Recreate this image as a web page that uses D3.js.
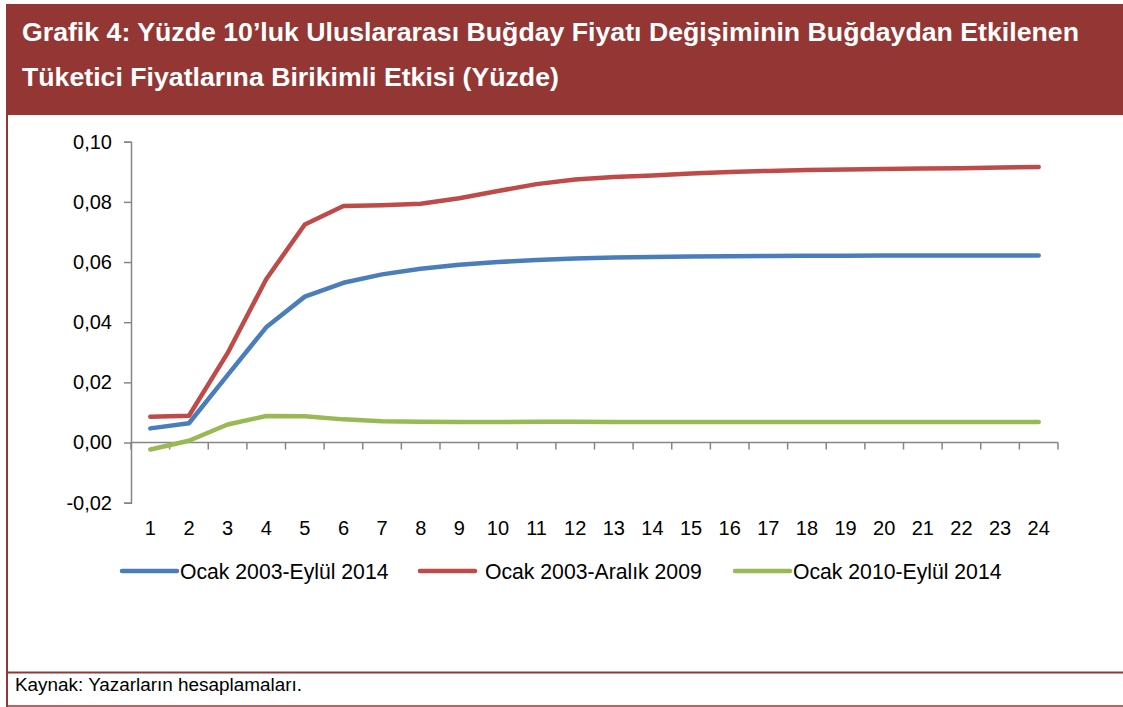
<!DOCTYPE html>
<html><head><meta charset="utf-8">
<script src="https://cdn.jsdelivr.net/npm/d3@7"></script>
<style>html,body{margin:0;padding:0;background:#fff;}svg{display:block;font-family:"Liberation Sans",Arial,sans-serif;}</style>
</head><body>
<svg id="c" width="1123" height="707"></svg>
<script>
const titleLines = ["Grafik 4: Yüzde 10’luk Uluslararası Buğday Fiyatı Değişiminin Buğdaydan Etkilenen",
                    "Tüketici Fiyatlarına Birikimli Etkisi (Yüzde)"];
const sourceText = "Kaynak: Yazarların hesaplamaları.";
const periods = d3.range(1, 25).map(String);
const yTicks = [-0.02, 0, 0.02, 0.04, 0.06, 0.08, 0.10];
const seriesNames = ["Ocak 2003-Eylül 2014", "Ocak 2003-Aralık 2009", "Ocak 2010-Eylül 2014"];
const seriesColors = ["#4A7EBB", "#BE4B48", "#98B954"];
const blueValues = [0.0047,0.0064,0.0224,0.0383,0.0485,0.0531,0.0559,0.0578,0.0591,0.0600,0.0607,0.0612,0.0615,0.0617,0.0618,0.0619,0.0620,0.0621,0.0621,0.0622,0.0622,0.0622,0.0622,0.0622];
const redValues  = [0.0086,0.0089,0.0297,0.0543,0.0725,0.0786,0.0789,0.0794,0.0812,0.0836,0.0859,0.0874,0.0883,0.0888,0.0894,0.0899,0.0903,0.0906,0.0908,0.0909,0.0911,0.0912,0.0914,0.0916];
const greenValues= [-0.0023,0.0006,0.0060,0.0088,0.0087,0.0077,0.0071,0.0069,0.0068,0.0068,0.0069,0.0069,0.0068,0.0068,0.0068,0.0068,0.0068,0.0068,0.0068,0.0068,0.0068,0.0068,0.0068,0.0068];
const allSeries = [blueValues, redValues, greenValues];

const svg = d3.select("#c");
const frame = "#943634";

// Title band
svg.append("rect").attr("x",6).attr("y",4).attr("width",1117).attr("height",111).attr("fill",frame);
svg.selectAll("text.title").data(titleLines).join("text").attr("class","title")
  .attr("x",22).attr("y",(d,i)=>41+i*45)
  .attr("fill","#fff").attr("font-weight","bold").attr("font-size",26.7).text(d=>d);

// Frame lines
svg.append("line").attr("x1",7).attr("x2",7).attr("y1",115).attr("y2",707).attr("stroke",frame).attr("stroke-width",2);
svg.append("line").attr("x1",6).attr("x2",1123).attr("y1",672.5).attr("y2",672.5).attr("stroke",frame).attr("stroke-width",2);
svg.append("line").attr("x1",6).attr("x2",1123).attr("y1",706).attr("y2",706).attr("stroke",frame).attr("stroke-width",1.5);
svg.append("text").attr("x",15).attr("y",691).attr("font-size",18.9).attr("fill","#000").text(sourceText);

// Scales
const x = d3.scaleBand().domain(periods).range([131, 1058]);
const y = d3.scaleLinear().domain([-0.02, 0.10]).range([502.7, 141.7]);
const fmt = v => d3.format(".2f")(v).replace(".", ",").replace("−", "-");

// Y axis
const yAxis = svg.append("g").attr("transform","translate(131,0)")
  .call(d3.axisLeft(y).tickValues(yTicks).tickSize(7).tickPadding(12).tickFormat(fmt));
yAxis.select(".domain").attr("stroke","#868686").attr("stroke-width",1.5);
yAxis.selectAll(".tick line").attr("stroke","#868686").attr("stroke-width",1.5);
yAxis.selectAll("text").attr("font-size",20).attr("fill","#000").attr("font-family","Liberation Sans, Arial, sans-serif");

// X axis at zero, ticks at band boundaries
const xg = svg.append("g");
xg.append("line").attr("x1",131).attr("x2",1058).attr("y1",y(0)).attr("y2",y(0)).attr("stroke","#868686").attr("stroke-width",1.5);
const bounds = periods.map(p => x(p) + x.bandwidth()).concat([x(periods[0])]);
xg.selectAll("line.t").data(bounds).join("line").attr("class","t")
  .attr("x1",d=>d).attr("x2",d=>d).attr("y1",y(0)).attr("y2",y(0)+7).attr("stroke","#868686").attr("stroke-width",1.5);
xg.selectAll("text").data(periods).join("text")
  .attr("x",d=>x(d)+x.bandwidth()/2).attr("y",535).attr("text-anchor","middle")
  .attr("font-size",20).attr("fill","#000").text(d=>d);

// Lines
const line = d3.line().x((d,i)=>x(periods[i])+x.bandwidth()/2).y(d=>y(d));
svg.selectAll("path.series").data(allSeries).join("path").attr("class","series")
  .attr("d",line).attr("fill","none").attr("stroke",(d,i)=>seriesColors[i])
  .attr("stroke-width",4.5).attr("stroke-linejoin","round").attr("stroke-linecap","round");

// Legend
const legendX = [122, 420, 735];
const lg = svg.selectAll("g.leg").data(seriesNames).join("g").attr("class","leg")
  .attr("transform",(d,i)=>`translate(${legendX[i]},571)`);
lg.append("line").attr("x1",0).attr("x2",55).attr("y1",0).attr("y2",0)
  .attr("stroke",(d,i)=>seriesColors[i]).attr("stroke-width",4.5).attr("stroke-linecap","round");
lg.append("text").attr("x",(d,i)=>i===1?65:58).attr("y",7.5).attr("font-size",21.2).attr("fill","#000").text(d=>d);
</script>
</body></html>
